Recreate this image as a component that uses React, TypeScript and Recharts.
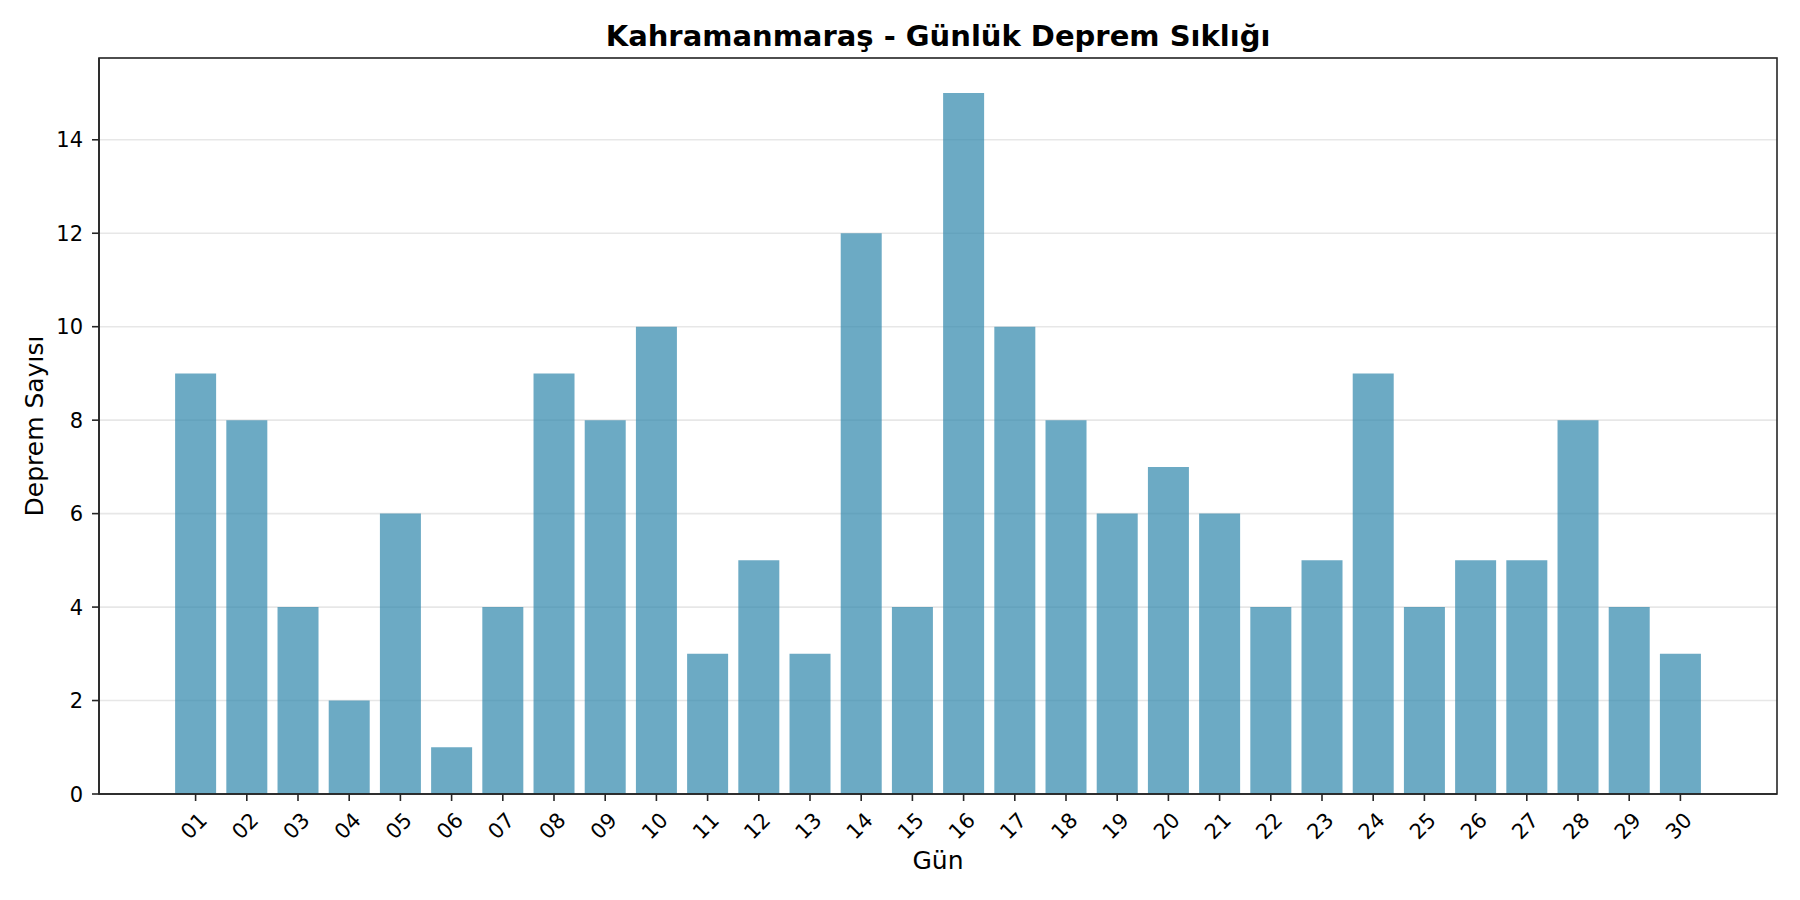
import { Bar, BarChart, CartesianGrid, XAxis, YAxis } from "recharts";

const DAYS = [
  "01", "02", "03", "04", "05", "06", "07", "08", "09", "10",
  "11", "12", "13", "14", "15", "16", "17", "18", "19", "20",
  "21", "22", "23", "24", "25", "26", "27", "28", "29", "30",
];
const COUNTS = [9, 8, 4, 2, 6, 1, 4, 9, 8, 10, 3, 5, 3, 12, 4, 15, 10, 8, 6, 7, 6, 4, 5, 9, 4, 5, 5, 8, 4, 3];
const Y_TICKS = [0, 2, 4, 6, 8, 10, 12, 14];
const Y_MAX = 15.75;

const TITLE = "Kahramanmaraş - Günlük Deprem Sıklığı";
const X_LABEL = "Gün";
const Y_LABEL = "Deprem Sayısı";

const W = 1800;
const H = 900;
const MARGIN = { top: 58, right: 23, bottom: 0, left: 0 };
const Y_AXIS_W = 99;
const X_AXIS_H = 106;
const PLOT_W = W - MARGIN.left - MARGIN.right - Y_AXIS_W;
const PLOT_H = H - MARGIN.top - MARGIN.bottom - X_AXIS_H;

const FONT = "'DejaVu Sans', sans-serif";
const BAR_COLOR = "#2E86AB";
const SPINE = "#262626";

const chartData = DAYS.map((day, i) => ({ day, count: COUNTS[i] }));

const XTick = (props: any) => {
  const { x, y, payload } = props;
  const cx = x - 1.5;
  const cy = y + 18;
  return (
    <text
      x={cx}
      y={cy}
      textAnchor="middle"
      dominantBaseline="central"
      fontSize={21}
      fontFamily={FONT}
      fill="#000"
      transform={`rotate(-45 ${cx} ${cy})`}
    >
      {payload.value}
    </text>
  );
};

const YTick = (props: any) => {
  const { x, y, payload } = props;
  return (
    <text x={x} y={y} dy="0.36em" textAnchor="end" fontSize={21} fontFamily={FONT} fill="#000">
      {payload.value}
    </text>
  );
};

export default function App() {
  return (
    <div style={{ position: "relative", width: W, height: H, background: "#fff" }}>
      <style>{"body{margin:0}"}</style>
      <BarChart width={W} height={H} data={chartData} margin={MARGIN} barCategoryGap="10%">
        <CartesianGrid vertical={false} stroke="#b0b0b0" strokeOpacity={0.3} strokeWidth={1.6} />
        <XAxis
          dataKey="day"
          height={X_AXIS_H}
          padding={{ left: 71, right: 71 }}
          interval={0}
          tickSize={7}
          tickMargin={7}
          axisLine={{ stroke: SPINE, strokeWidth: 1.6 }}
          tickLine={{ stroke: SPINE, strokeWidth: 1.6 }}
          tick={<XTick />}
        />
        <YAxis
          width={Y_AXIS_W}
          domain={[0, Y_MAX]}
          ticks={Y_TICKS}
          tickSize={7}
          tickMargin={9}
          axisLine={{ stroke: SPINE, strokeWidth: 1.6 }}
          tickLine={{ stroke: SPINE, strokeWidth: 1.6 }}
          tick={<YTick />}
        />
        <Bar dataKey="count" fill={BAR_COLOR} fillOpacity={0.7} isAnimationActive={false} />
      </BarChart>
      <svg
        width={W}
        height={H}
        style={{ position: "absolute", left: 0, top: 0, pointerEvents: "none" }}
      >
        {/* axes frame (top and right spines) */}
        <rect
          x={MARGIN.left + Y_AXIS_W}
          y={MARGIN.top}
          width={PLOT_W}
          height={PLOT_H}
          fill="none"
          stroke={SPINE}
          strokeWidth={1.6}
        />
        <text x={938} y={46} textAnchor="middle" fontSize={29} fontWeight="bold" fontFamily={FONT} fill="#000">
          {TITLE}
        </text>
        <text x={938} y={869} textAnchor="middle" fontSize={25} fontFamily={FONT} fill="#000">
          {X_LABEL}
        </text>
        <text
          x={43}
          y={426}
          textAnchor="middle"
          fontSize={25}
          fontFamily={FONT}
          fill="#000"
          transform="rotate(-90 43 426)"
        >
          {Y_LABEL}
        </text>
      </svg>
    </div>
  );
}
